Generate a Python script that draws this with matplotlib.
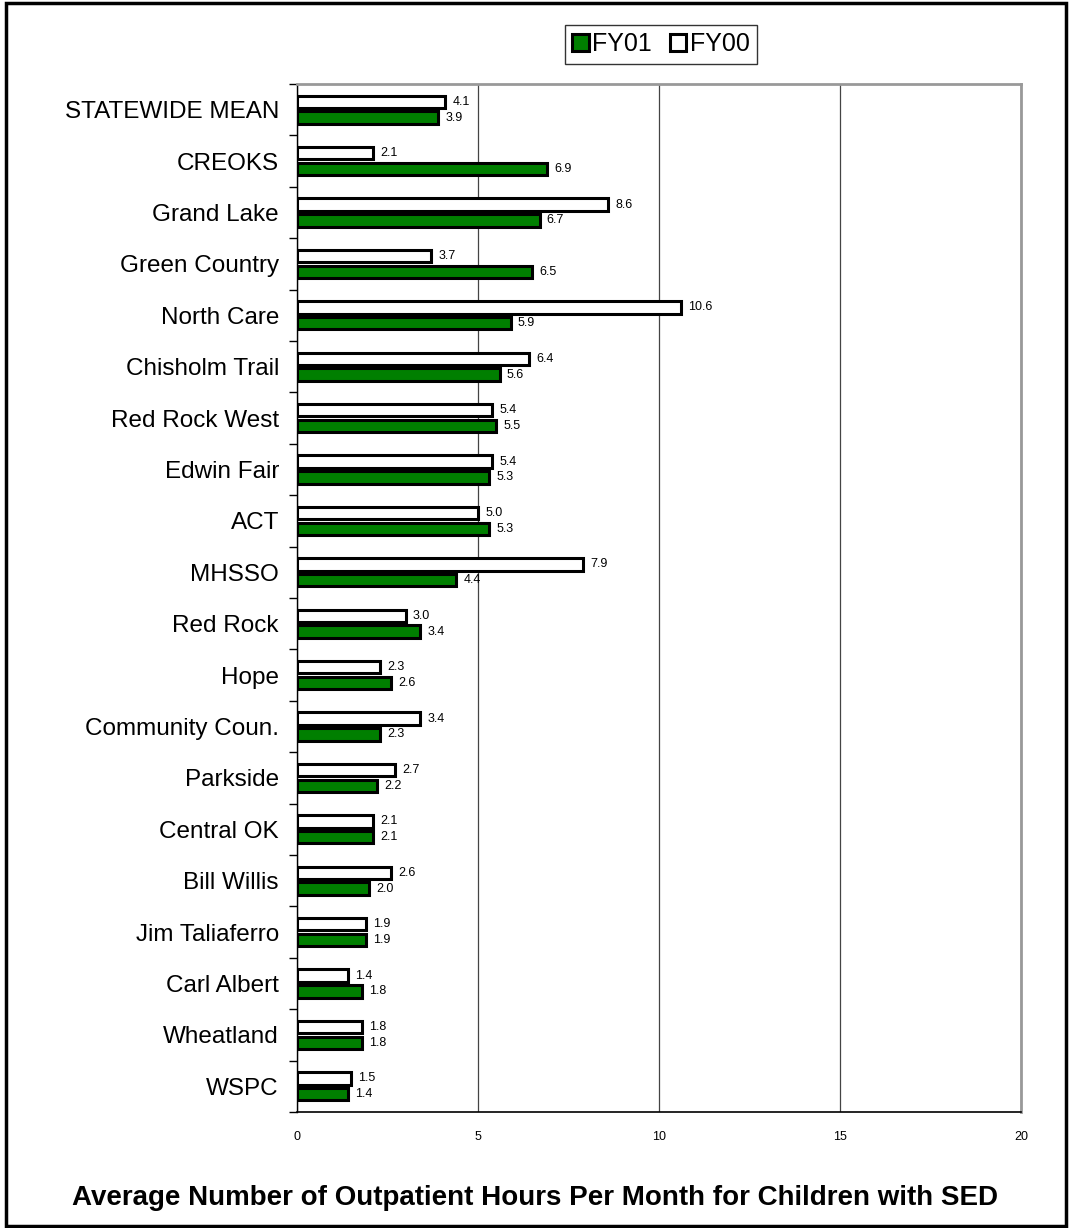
import numpy as np
import matplotlib.pyplot as plt
from matplotlib.patches import Rectangle

centers = ["STATEWIDE MEAN", "CREOKS", "Grand Lake", "Green Country", "North Care",
           "Chisholm Trail", "Red Rock West", "Edwin Fair", "ACT", "MHSSO",
           "Red Rock", "Hope", "Community Coun.", "Parkside", "Central OK",
           "Bill Willis", "Jim Taliaferro", "Carl Albert", "Wheatland", "WSPC"]
fy01 = [3.9, 6.9, 6.7, 6.5, 5.9, 5.6, 5.5, 5.3, 5.3, 4.4,
        3.4, 2.6, 2.3, 2.2, 2.1, 2.0, 1.9, 1.8, 1.8, 1.4]
fy00 = [4.1, 2.1, 8.6, 3.7, 10.6, 6.4, 5.4, 5.4, 5.0, 7.9,
        3.0, 2.3, 3.4, 2.7, 2.1, 2.6, 1.9, 1.4, 1.8, 1.5]

plt.rcParams['font.family'] = ['Liberation Sans', 'DejaVu Sans']

fig = plt.figure(figsize=(10.69, 12.28), dpi=100)
W, H = 1069, 1228
# axes box in pixels: left 297, right 1021, top 84, bottom 1112
ax = fig.add_axes([297 / W, 1 - 1112 / H, (1021 - 297) / W, (1112 - 84) / H])

n = len(centers)
y = np.arange(n)
h = 0.24
off = 0.155
ax.barh(y - off, fy00, height=h, color='white', edgecolor='black', linewidth=2.2, label='FY00', zorder=3)
ax.barh(y + off, fy01, height=h, color='#007f00', edgecolor='black', linewidth=2.2, label='FY01', zorder=3)

# value labels next to bar ends
for i in range(n):
    ax.text(fy00[i] + 0.2, y[i] - off, f"{fy00[i]:.1f}", fontsize=9, va='center', ha='left', zorder=4)
    ax.text(fy01[i] + 0.2, y[i] + off, f"{fy01[i]:.1f}", fontsize=9, va='center', ha='left', zorder=4)

ax.set_xlim(0, 20)
ax.set_ylim(n - 0.5, -0.5)
ax.set_xticks([0, 5, 10, 15, 20])
ax.tick_params(axis='x', length=0, labelsize=9, pad=14)
ax.set_yticks(y)
ax.set_yticklabels(centers, fontsize=17.5)
ax.tick_params(axis='y', which='major', length=0, pad=13)
ax.set_yticks(np.arange(-0.5, n, 1.0), minor=True)
ax.tick_params(axis='y', which='minor', length=6, width=1, direction='out')
ax.grid(axis='x', color='#444444', linewidth=0.9, zorder=0)
for s in ['top', 'right']:
    ax.spines[s].set_color('#999999')
    ax.spines[s].set_linewidth(2)
ax.spines['left'].set_linewidth(1)
ax.spines['bottom'].set_linewidth(1.2)

handles, labels = ax.get_legend_handles_labels()
leg = fig.legend(handles[::-1], labels[::-1], loc='center', bbox_to_anchor=(661 / W, 1 - 44 / H),
                 ncol=2, fontsize=18, frameon=True, fancybox=False, edgecolor='black',
                 handlelength=0.65, handleheight=0.65, handletextpad=0.15, columnspacing=0.7,
                 borderpad=0.3)
leg.get_frame().set_linewidth(1)

fig.text(0.5, 1 - 1198 / H, "Average Number of Outpatient Hours Per Month for Children with SED",
         ha='center', va='center', fontsize=20, fontweight='bold')

# outer border
fig.patches.append(Rectangle((6 / W, 2 / H), 1 - 9 / W, 1 - 5 / H, transform=fig.transFigure,
                             fill=False, edgecolor='black', linewidth=2.5))

fig.savefig('out.png', dpi=100)
